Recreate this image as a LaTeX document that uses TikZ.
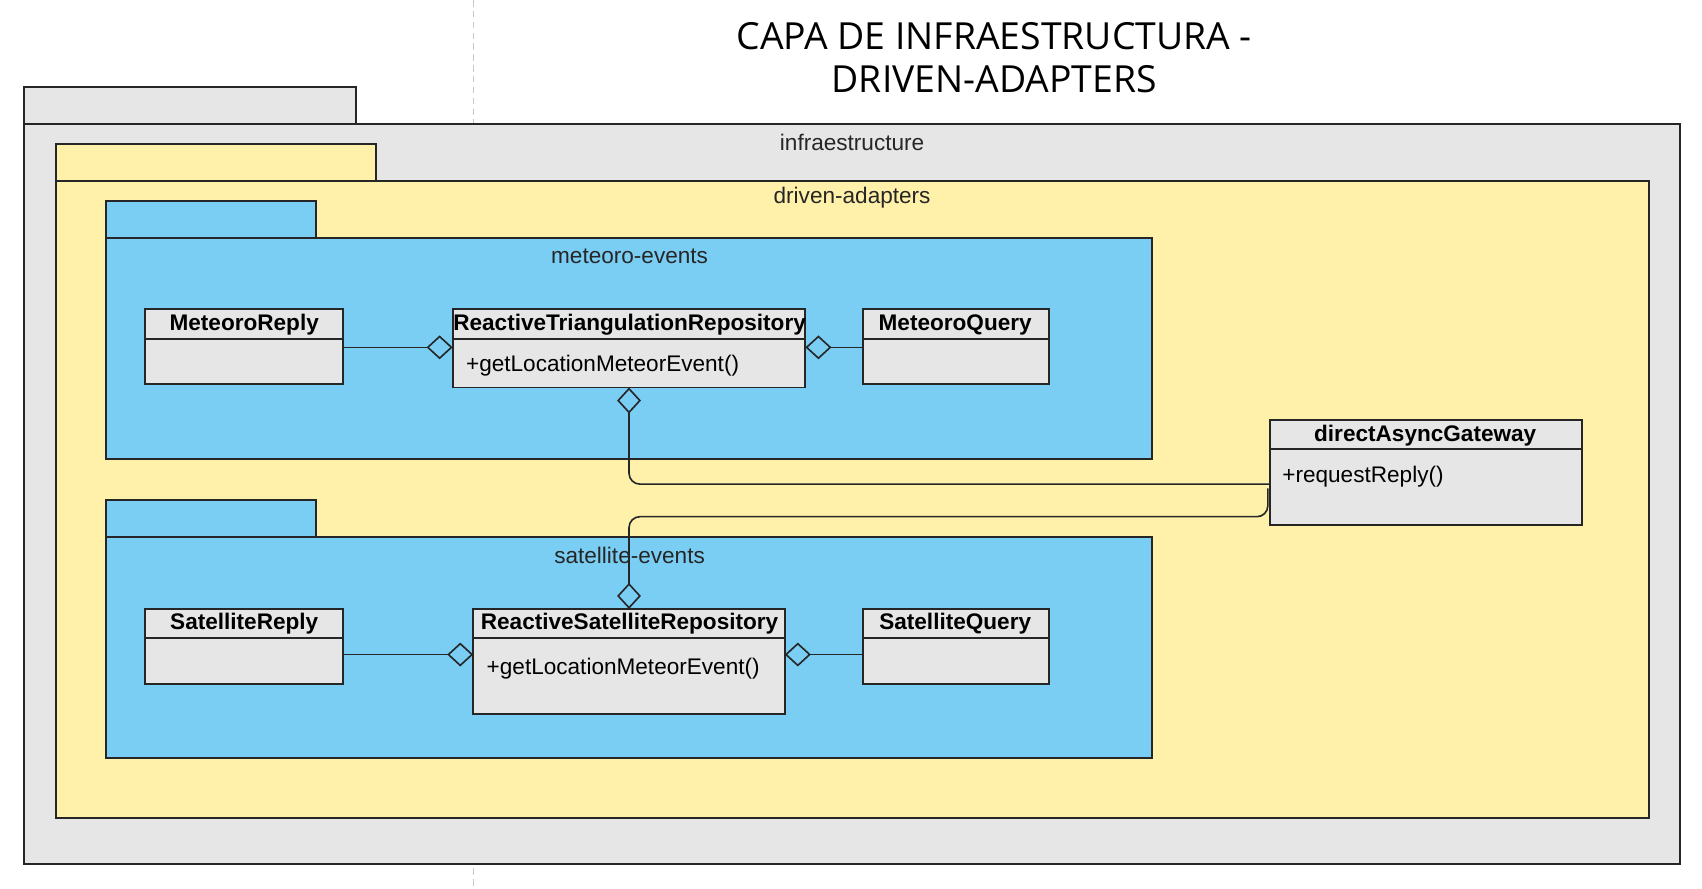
\documentclass[tikz,border=0pt]{standalone}
\usepackage{fontspec}
\setmainfont{Liberation Sans}
\newfontfamily\titlefont{Open Sans}
\usetikzlibrary{arrows.meta,fit}
\definecolor{pkggray}{HTML}{E6E6E6}
\definecolor{pkgyellow}{HTML}{FFF0AA}
\definecolor{pkgblue}{HTML}{7ACEF4}
\definecolor{clsgray}{HTML}{E6E6E6}
\definecolor{edge}{HTML}{262626}
\definecolor{dashgray}{HTML}{C8C8C8}
\tikzset{
  boxbase/.style={draw=edge, line width=0.9pt, inner sep=0pt, outer sep=0pt},
  graypkg/.style={boxbase, fill=pkggray},
  yellowpkg/.style={boxbase, fill=pkgyellow},
  bluepkg/.style={boxbase, fill=pkgblue},
  clsbox/.style={boxbase, fill=clsgray},
  pkglabel/.style={font=\fontsize{10.4}{12}\selectfont, text=black!85, inner sep=0pt},
  clsname/.style={font=\fontsize{10.4}{12}\selectfont\bfseries, inner sep=0pt},
  method/.style={font=\fontsize{10.4}{12}\selectfont, inner sep=0pt, anchor=west},
  divider/.style={draw=edge, line width=0.9pt},
  assoc/.style={draw=edge, line width=0.75pt},
  aggr/.style={assoc, -{Diamond[open, length=12pt, width=11pt, line width=0.75pt]}},
  dashline/.style={draw=dashgray, line width=0.5pt, dash pattern=on 3pt off 2pt}
}
\begin{document}
\begin{tikzpicture}[x=0.5pt, y=-0.5pt]
\useasboundingbox (0,0) rectangle (1568,819);
% background dashed guide
\draw[dashline] (436,0) -- (436,819);
% title
\node[align=center, inner sep=0pt, font=\titlefont\fontsize{17.2}{20}\selectfont] (title) at (916,53)
  {CAPA DE INFRAESTRUCTURA -\\DRIVEN-ADAPTERS};
% infrastructure package
\node[graypkg, fit={(22,80) (328,114)}] (infratab) {};
\node[graypkg, fit={(22,114) (1548,796)}] (infra) {};
\node[pkglabel] (infralbl) at (785,131) {infraestructure};
% driven-adapters package
\node[yellowpkg, fit={(52,133) (346,167)}] (drivtab) {};
\node[yellowpkg, fit={(52,167) (1519,754)}] (driv) {};
\node[pkglabel] (drivlbl) at (785,182) {driven-adapters};
% meteoro-events package
\node[bluepkg, fit={(98,185) (291,219)}] (mettab) {};
\node[bluepkg, fit={(98,219) (1061,423)}] (met) {};
\node[pkglabel] (metlbl) at (580,236) {meteoro-events};
% satellite-events package
\node[bluepkg, fit={(98,461) (291,495)}] (sattab) {};
\node[bluepkg, fit={(98,495) (1061,698)}] (sat) {};
\node[pkglabel] (satlbl) at (580,512) {satellite-events};
% classes: meteoro
\node[clsbox, fit={(134,285) (316,354)}] (mr) {};
\draw[divider] (134,312) -- (316,312);
\node[clsname] at (225,299) {MeteoroReply};
\node[clsbox, fit={(417,285) (742,357)}] (rtr) {};
\draw[divider] (417,312) -- (742,312);
\node[clsname] at (580,299) {ReactiveTriangulationRepository};
\node[method] at (429,337) {+getLocationMeteorEvent()};
\node[clsbox, fit={(795,285) (966,354)}] (mq) {};
\draw[divider] (795,312) -- (966,312);
\node[clsname] at (880,299) {MeteoroQuery};
% classes: satellite
\node[clsbox, fit={(134,561) (316,630)}] (sr) {};
\draw[divider] (134,588) -- (316,588);
\node[clsname] at (225,575) {SatelliteReply};
\node[clsbox, fit={(436,561) (723,658)}] (rsr) {};
\draw[divider] (436,588) -- (723,588);
\node[clsname] at (580,575) {ReactiveSatelliteRepository};
\node[method] at (448,616) {+getLocationMeteorEvent()};
\node[clsbox, fit={(795,561) (966,630)}] (sq) {};
\draw[divider] (795,588) -- (966,588);
\node[clsname] at (880,575) {SatelliteQuery};
% gateway
\node[clsbox, fit={(1170,387) (1457,484)}] (gw) {};
\draw[divider] (1170,414) -- (1457,414);
\node[clsname] at (1313,401) {directAsyncGateway};
\node[method] at (1181,439) {+requestReply()};
% helper rows
\coordinate (ymet) at (0,320);
\coordinate (ysat) at (0,603);
\coordinate (ygw1) at (0,446);
\coordinate (ygw2a) at (0,450);
\coordinate (ygw2b) at (0,476);
% connectors
\draw[aggr] (mr.east |- ymet) -- (rtr.west |- ymet);
\draw[aggr] (mq.west |- ymet) -- (rtr.east |- ymet);
\draw[aggr] (sr.east |- ysat) -- (rsr.west |- ysat);
\draw[aggr] (sq.west |- ysat) -- (rsr.east |- ysat);
\draw[aggr, rounded corners=5pt] (gw.west |- ygw1) -- (rtr.south |- ygw1) -- (rtr.south);
\draw[aggr, rounded corners=5pt] ([xshift=-1pt]gw.west |- ygw2a) -- ([xshift=-1pt]gw.west |- ygw2b) -- (rsr.north |- ygw2b) -- (rsr.north);
\end{tikzpicture}
\end{document}
